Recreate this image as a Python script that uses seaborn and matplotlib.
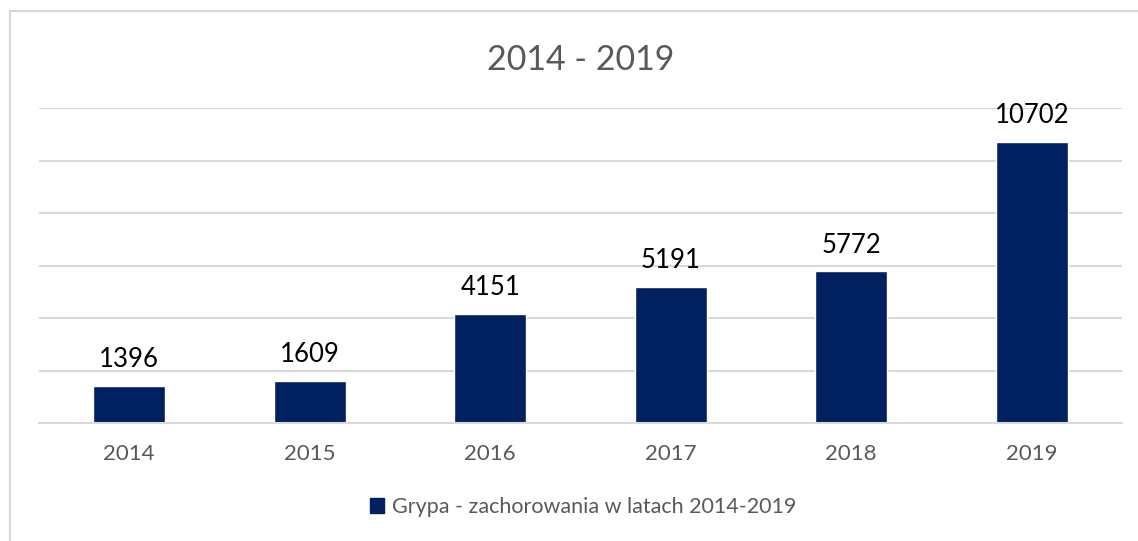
import matplotlib
matplotlib.use("Agg")
import matplotlib.pyplot as plt
import matplotlib.patches as mpatches
import seaborn as sns
import pandas as pd

years = ["2014", "2015", "2016", "2017", "2018", "2019"]
cases = [1396, 1609, 4151, 5191, 5772, 10702]
series_name = "Grypa - zachorowania w latach 2014-2019"
title = "2014 - 2019"

sns.set_theme(style="white")
plt.rcParams["font.family"] = ["Lato", "DejaVu Sans"]

BAR = "#002060"
GRID = "#d9d9d9"
TXT = "#595959"

df = pd.DataFrame({"year": years, "cases": cases})

fig = plt.figure(figsize=(11.38, 5.41), dpi=100)
ax = fig.add_axes([39 / 1138, 118 / 541, (1122 - 39) / 1138, (433 - 118) / 541])

sns.barplot(data=df, x="year", y="cases", color=BAR, width=0.4, ax=ax,
            saturation=1, label=series_name)

ax.set_ylim(0, 12000)
ax.set_yticks(range(0, 12001, 2000))
ax.yaxis.grid(True, color=GRID, linewidth=1.5)
ax.set_axisbelow(True)
ax.tick_params(axis="y", left=False, labelleft=False)
ax.tick_params(axis="x", bottom=False, labelsize=16, labelcolor=TXT, pad=9)
for s in ["top", "right", "left"]:
    ax.spines[s].set_visible(False)
ax.spines["bottom"].set_color(GRID)
ax.spines["bottom"].set_linewidth(1.5)
ax.set_xlabel("")
ax.set_ylabel("")

for c in ax.containers:
    ax.bar_label(c, labels=[str(v) for v in cases], padding=10, fontsize=18.5, color="black")

ax.set_title(title, fontsize=24.5, color=TXT, pad=27)

leg = ax.get_legend()
if leg is not None:
    leg.remove()
handle = mpatches.Patch(color=BAR, label=series_name)
fig.legend(handles=[handle], loc="center", bbox_to_anchor=(583 / 1138, 1 - 507 / 541),
           frameon=False, fontsize=15.5, labelcolor=TXT, handlelength=0.65, handleheight=0.65,
           handletextpad=0.35)

border = mpatches.Rectangle((9.5 / 1138, -0.2), 1.2, 1 - 11 / 541 + 0.2, transform=fig.transFigure,
                            fill=False, edgecolor=GRID, linewidth=1.5)
fig.patches.append(border)

fig.savefig("out.png", dpi=100)
